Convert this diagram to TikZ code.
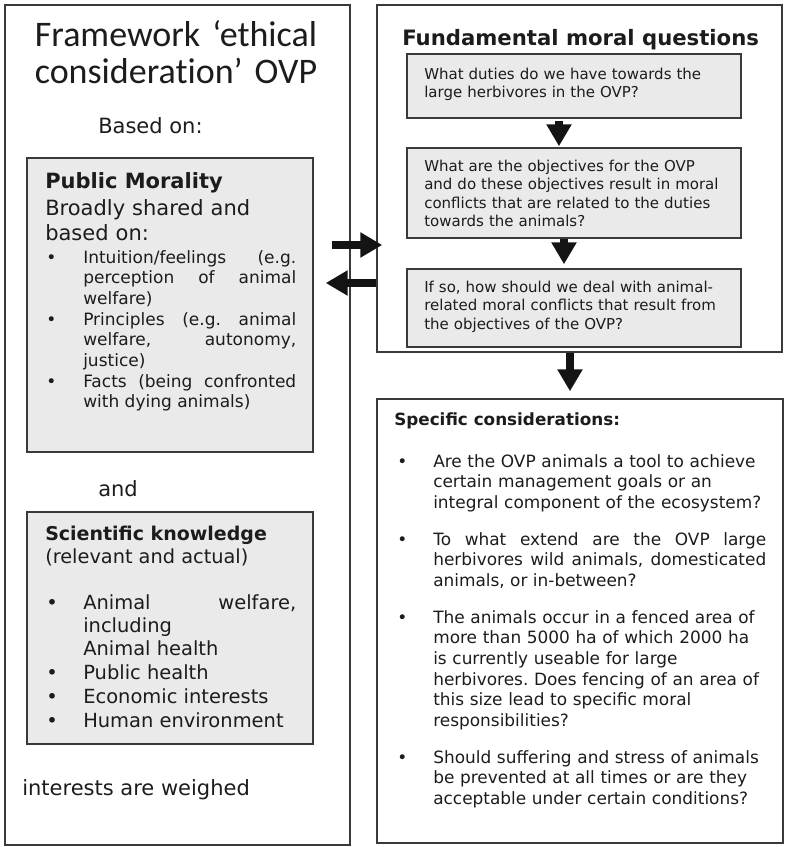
\documentclass[tikz,border=0pt]{standalone}
\usepackage{fontspec}
\setmainfont{DejaVu Sans}
\newfontfamily\titlefont{Carlito}[Ligatures={NoCommon,NoRequired,NoContextual}]
\usetikzlibrary{arrows.meta,positioning,calc,fit}
\frenchspacing

\definecolor{boxfill}{HTML}{EAEAEA}
\definecolor{boxline}{HTML}{3A3A3A}
\definecolor{ink}{HTML}{1C1C1C}

\newcommand{\sz}[2]{\fontsize{#1}{#2}\selectfont}

\tikzset{
  panel/.style={draw=boxline, line width=1.1pt, inner sep=0pt},
  greybox/.style={panel, fill=boxfill},
  label/.style={anchor=base west, inner sep=0pt, text=ink},
  ragged/.style={label, text width=#1, align=left},
  justified/.style={label, text width=#1, align=justify},
  bigarrow/.style={line width=6pt, draw=black!92,
    -{Triangle[length=16.5pt, width=18pt]}},
}

\begin{document}
\begin{tikzpicture}[x=0.75pt, y=-0.75pt]
\useasboundingbox (0,0) rectangle (785,847);

% frames and boxes
\node[panel, fit={(5,5) (350,845)}] (frame) {};
\node[panel, fit={(377,5) (782,352)}] (fmq) {};
\node[panel, fit={(377,399) (783,843)}] (spec) {};
\node[greybox, fit={(27,158) (313,452)}] (pm) {};
\node[greybox, fit={(27,512) (313,744)}] (sci) {};
\node[greybox, fit={(407,54) (741,118)}] (q1) {};
\node[greybox, fit={(407,148) (741,238)}] (q2) {};
\node[greybox, fit={(407,269) (741,347)}] (q3) {};

% left column
\node[label, anchor=base, text width=320*0.75pt, align=center,
  font=\titlefont\sz{27pt}{27.75pt}] (title) at (176,46)
  {Framework ‘ethical\\considerat\kern0pt ion’ OVP};
\node[label, font=\sz{15.75pt}{18.75pt}] (based) at (98,133) {Based on:};

\node[label, font=\bfseries\sz{15.75pt}{18.75pt}] (pmhead) at (45,188) {Public Morality};
\node[ragged=250pt, font=\sz{15.75pt}{18.75pt}] (pmsub) at (45,215)
  {Broadly shared and\\based on:};
\node[label, font=\sz{12.75pt}{15.5pt}] (pmdot1) at (46,263) {•};
\node[label, font=\sz{12.75pt}{15.5pt}] (pmdot2) at (46,325) {•};
\node[label, font=\sz{12.75pt}{15.5pt}] (pmdot3) at (46,387) {•};
\node[justified=159.75pt, font=\sz{12.75pt}{15.5pt}] (pmitem1) at (83,263)
  {Intuition/feelings (e.g.\linebreak perception of animal\linebreak welfare)};
\node[justified=159.75pt, font=\sz{12.75pt}{15.5pt}] (pmitem2) at (83,325)
  {Principles (e.g. animal\linebreak welfare, autonomy,\linebreak justice)};
\node[justified=159.75pt, font=\sz{12.75pt}{15.5pt}] (pmitem3) at (83,387)
  {Facts (being confronted\linebreak with dying animals)};

\node[label, font=\sz{15.75pt}{18.75pt}] (and) at (98,496) {and};

\node[label, font=\bfseries\sz{14.25pt}{17.5pt}] (scihead) at (45,540) {Scientific knowledge};
\node[label, font=\sz{14.5pt}{17.5pt}] (scisub) at (45,563) {(relevant and actual)};
\node[label, font=\sz{14.6pt}{17.5pt}] (scidot1) at (46,609) {•};
\node[label, font=\sz{14.6pt}{17.5pt}] (scidot2) at (46,679) {•};
\node[label, font=\sz{14.6pt}{17.5pt}] (scidot3) at (46,703) {•};
\node[label, font=\sz{14.6pt}{17.5pt}] (scidot4) at (46,727) {•};
\node[justified=159.75pt, font=\sz{14.6pt}{17.5pt}] (sciitem1) at (83,609)
  {Animal welfare,\linebreak including\\Animal health};
\node[label, font=\sz{14.6pt}{17.5pt}] (sciitem2) at (83,679) {Public health};
\node[label, font=\sz{14.6pt}{17.5pt}] (sciitem3) at (83,703) {Economic interests};
\node[label, font=\sz{14.6pt}{17.5pt}] (sciitem4) at (83,727) {Human environment};

\node[label, font=\sz{15.75pt}{18.75pt}] (weighed) at (22,795) {interests are weighed};

% fundamental questions
\node[label, font=\bfseries\sz{15.9pt}{18pt}] (fmqhead) at (402,45) {Fundamental moral questions};
\node[ragged=250pt, font=\sz{11.25pt}{13.9pt}] (q1text) at (424,79)
  {What duties do we have towards the\\large herbivores in the OVP?};
\node[ragged=250pt, font=\sz{11.25pt}{13.9pt}] (q2text) at (424,171)
  {What are the objectives for the OVP\\and do these objectives result in moral\\conflicts that are related to the duties\\towards the animals?};
\node[ragged=250pt, font=\sz{11.25pt}{13.9pt}] (q3text) at (424,292)
  {If so, how should we deal with animal-\\related moral conflicts that result from\\the objectives of the OVP?};

% specific considerations
\node[label, font=\bfseries\sz{12.6pt}{15.5pt}] (spechead) at (394,425) {Specific considerations:};
\node[label, font=\sz{12.7pt}{15.5pt}] (specdot1) at (397,467) {•};
\node[label, font=\sz{12.7pt}{15.5pt}] (specdot2) at (397,545) {•};
\node[label, font=\sz{12.7pt}{15.5pt}] (specdot3) at (397,623) {•};
\node[label, font=\sz{12.7pt}{15.5pt}] (specdot4) at (397,763) {•};
\node[ragged=265pt, font=\sz{12.7pt}{15.5pt}] (specitem1) at (433,467)
  {Are the OVP animals a tool to achieve\\certain management goals or an\\integral component of the ecosystem?};
\node[justified=249.75pt, font=\sz{12.7pt}{15.5pt}] (specitem2) at (433,545)
  {To what extend are the OVP large\linebreak herbivores wild animals, domesticated\linebreak animals, or in-between?};
\node[ragged=265pt, font=\sz{12.7pt}{15.5pt}] (specitem3) at (433,623)
  {The animals occur in a fenced area of\\more than 5000 ha of which 2000 ha\\is currently useable for large\\herbivores. Does fencing of an area of\\this size lead to specific moral\\responsibilities?};
\node[ragged=265pt, font=\sz{12.7pt}{15.5pt}] (specitem4) at (433,763)
  {Should suffering and stress of animals\\be prevented at all times or are they\\acceptable under certain conditions?};

% arrows
\draw[bigarrow] ($(q1.south)+(-15,2)$) -- ($(q2.north)+(-15,-1)$);
\draw[bigarrow] ($(q2.south)+(-10,0)$) -- ($(q3.north)+(-10,-4)$);
\draw[bigarrow] ($(fmq.south)+(-9.5,0)$) -- ($(spec.north)+(-10,-7)$);
\draw[bigarrow] ($(frame.east |- 0,245)+(-19,0)$) -- ($(fmq.west |- 0,245)+(6,0)$);
\draw[bigarrow] (fmq.west |- 0,283) -- ($(frame.east |- 0,283)+(-25,0)$);
\end{tikzpicture}
\end{document}
